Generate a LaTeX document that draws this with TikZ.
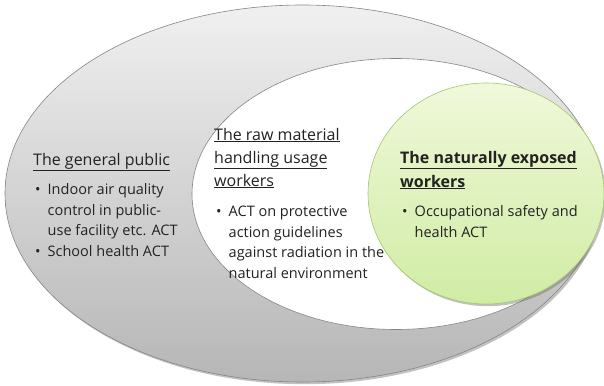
\documentclass[tikz,border=0pt]{standalone}
\usepackage{fontspec}
\setmainfont{Open Sans}
\usetikzlibrary{shadows}
\definecolor{txt}{HTML}{222222}
\definecolor{gborder}{HTML}{858585}
\definecolor{grtop}{HTML}{F0F0F0}
\definecolor{grbot}{HTML}{B6B6B6}
\definecolor{gntop}{HTML}{F0F8DA}
\definecolor{gnbot}{HTML}{D0ECA4}
\definecolor{gnborder}{HTML}{A4C86C}
\tikzset{
  shade/.style={drop shadow={shadow xshift=1.8pt,shadow yshift=-2.2pt,opacity=0.4,fill=black!60}},
  heading/.style={anchor=base west,inner sep=0pt,align=left,text=txt,font=\fontsize{16}{23}\selectfont},
  bullets/.style={anchor=base west,inner sep=0pt,align=left,text=txt,font=\fontsize{14.5}{20.5}\selectfont},
}
\newcommand{\bul}{\makebox[12.5pt][l]{\textbullet}}
\newcommand{\ind}{\hspace*{12.5pt}}
\begin{document}
\begin{tikzpicture}[x=1pt,y=-1pt]
\useasboundingbox (0,0) rectangle (604,385);
% outer ellipse
\path[shade,draw=gborder,line width=0.6pt,top color=grtop,bottom color=grbot]
  (302.5,193.5) ellipse [x radius=297.5,y radius=188.5];
% inner white ellipse
\path[draw=gborder,line width=0.6pt,fill=white]
  (396,194) ellipse [x radius=204,y radius=135.5];
% green ellipse
\path[shade,draw=gnborder,line width=0.6pt,top color=gntop,bottom color=gnbot]
  (486,193.5) ellipse [x radius=118,y radius=110.5];
% texts (base anchor = baseline of last line)
\node[heading] (gp) at (33,165) {\underline{The general public}};
\node[bullets] (gpb) at (35,256) {\bul Indoor air quality\\\ind control in public-\\\ind use facility etc. ACT\\\bul School health ACT};
\node[heading] (rm) at (214,186) {\underline{The raw material}\\\underline{handling usage}\\\underline{workers}};
\node[bullets] (rmb) at (216,278) {\bul ACT on protective\\\ind action guidelines\\\ind against radiation in the\\\ind natural environment};
\node[heading,font=\fontsize{16}{24}\bfseries\selectfont] (ne) at (400,187) {\underline{The naturally exposed}\\\underline{workers}};
\node[bullets] (neb) at (402,237) {\bul Occupational safety and\\\ind health ACT};
\end{tikzpicture}
\end{document}
